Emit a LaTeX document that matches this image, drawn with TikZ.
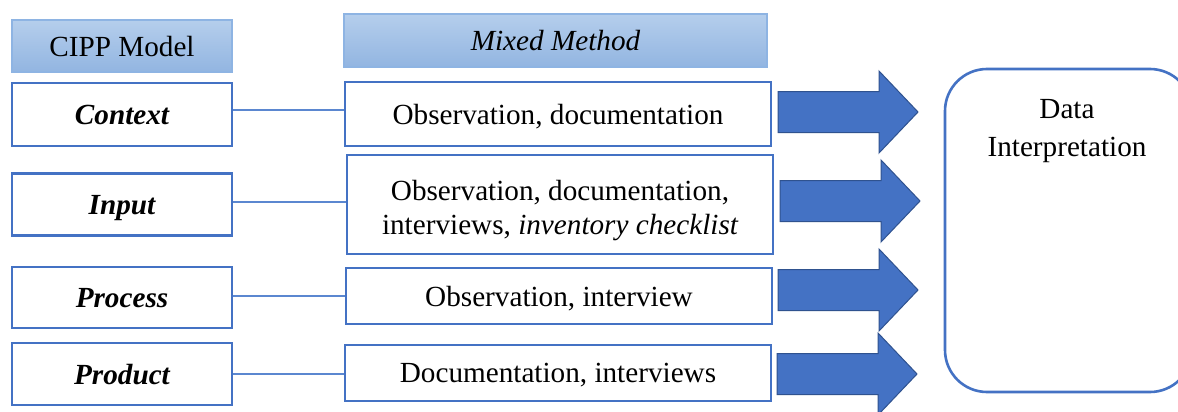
\documentclass[tikz,border=0pt]{standalone}
\usepackage{fontspec}
\setmainfont{Liberation Serif}
\definecolor{bblue}{HTML}{4472C4}
\definecolor{dblue}{HTML}{2F528F}
\definecolor{hbord}{HTML}{8EB4E3}
\definecolor{htop}{HTML}{B5CEEC}
\definecolor{hbot}{HTML}{92B5E1}
\definecolor{lineblue}{HTML}{5B87D0}
\begin{document}
\begin{tikzpicture}[x=1pt,y=-1pt,
  every node/.style={font=\fontsize{29.2}{34}\selectfont, inner sep=0pt},
  header/.style={draw=hbord, line width=1.5pt, top color=htop, bottom color=hbot, align=center, text depth=0pt},
  cbox/.style={draw=bblue, line width=2.6pt, fill=white, align=center, text depth=0pt},
  link/.style={draw=lineblue, line width=1.3pt},
  arrowstyle/.style={fill=bblue, draw=dblue, line width=1pt},
  bigarrow/.pic={\draw[arrowstyle] (0,-20.5) -- (101,-20.5) -- (101,-41) -- (140,0) -- (101,41) -- (101,20.5) -- (0,20.5) -- cycle;}
]
\useasboundingbox (0,0) rectangle (1178,412);
\fill[white] (0,0) rectangle (1178,412);
% headers
\node[header, minimum width=220pt, minimum height=52pt] (hcipp) at (122,46) {CIPP Model};
\node[header, minimum width=423pt, minimum height=53pt] (hmixed) at (555.5,40.5) {\itshape Mixed Method};
% left column
\node[cbox, minimum width=220pt, minimum height=63pt] (context) at (122,114.5) {\bfseries\itshape Context};
\node[cbox, minimum width=220pt, minimum height=62pt] (input) at (122,204.5) {\bfseries\itshape Input};
\node[cbox, minimum width=220pt, minimum height=61pt] (process) at (122,297.5) {\bfseries\itshape Process};
\node[cbox, minimum width=220pt, minimum height=62pt] (product) at (122,374) {\bfseries\itshape Product};
% method column
\node[cbox, minimum width=426pt, minimum height=64pt] (m1) at (558,114) {Observation, documentation};
\node[cbox, minimum width=426pt, minimum height=99pt] (m2) at (560,204.5) {};
\node[align=center] (m2t) at (560,211) {Observation, documentation,\\interviews, \itshape inventory checklist};
\node[cbox, minimum width=426pt, minimum height=56pt] (m3) at (559,296) {Observation, interview};
\node[cbox, minimum width=426pt, minimum height=56pt] (m4) at (558,373) {Documentation, interviews};
% links
\draw[link] (context.east |- 0,110) -- (m1.west |- 0,110);
\draw[link] (input.east |- 0,202) -- (m2.west |- 0,202);
\draw[link] (process.east |- 0,296) -- (m3.west |- 0,296);
\draw[link] (product.east |- 0,374) -- (m4.west |- 0,374);
% arrows
\pic at (778,112) {bigarrow};
\pic at (780,201) {bigarrow};
\pic at (778,290) {bigarrow};
\pic at (777,374) {bigarrow};
% data interpretation
\draw[draw=bblue, line width=2.6pt, rounded corners=42pt] (945,69) rectangle (1192,392);
\node[align=center, font=\fontsize{29.2}{38}\selectfont] (data) at (1067,131) {Data\\Interpretation};
\end{tikzpicture}
\end{document}
